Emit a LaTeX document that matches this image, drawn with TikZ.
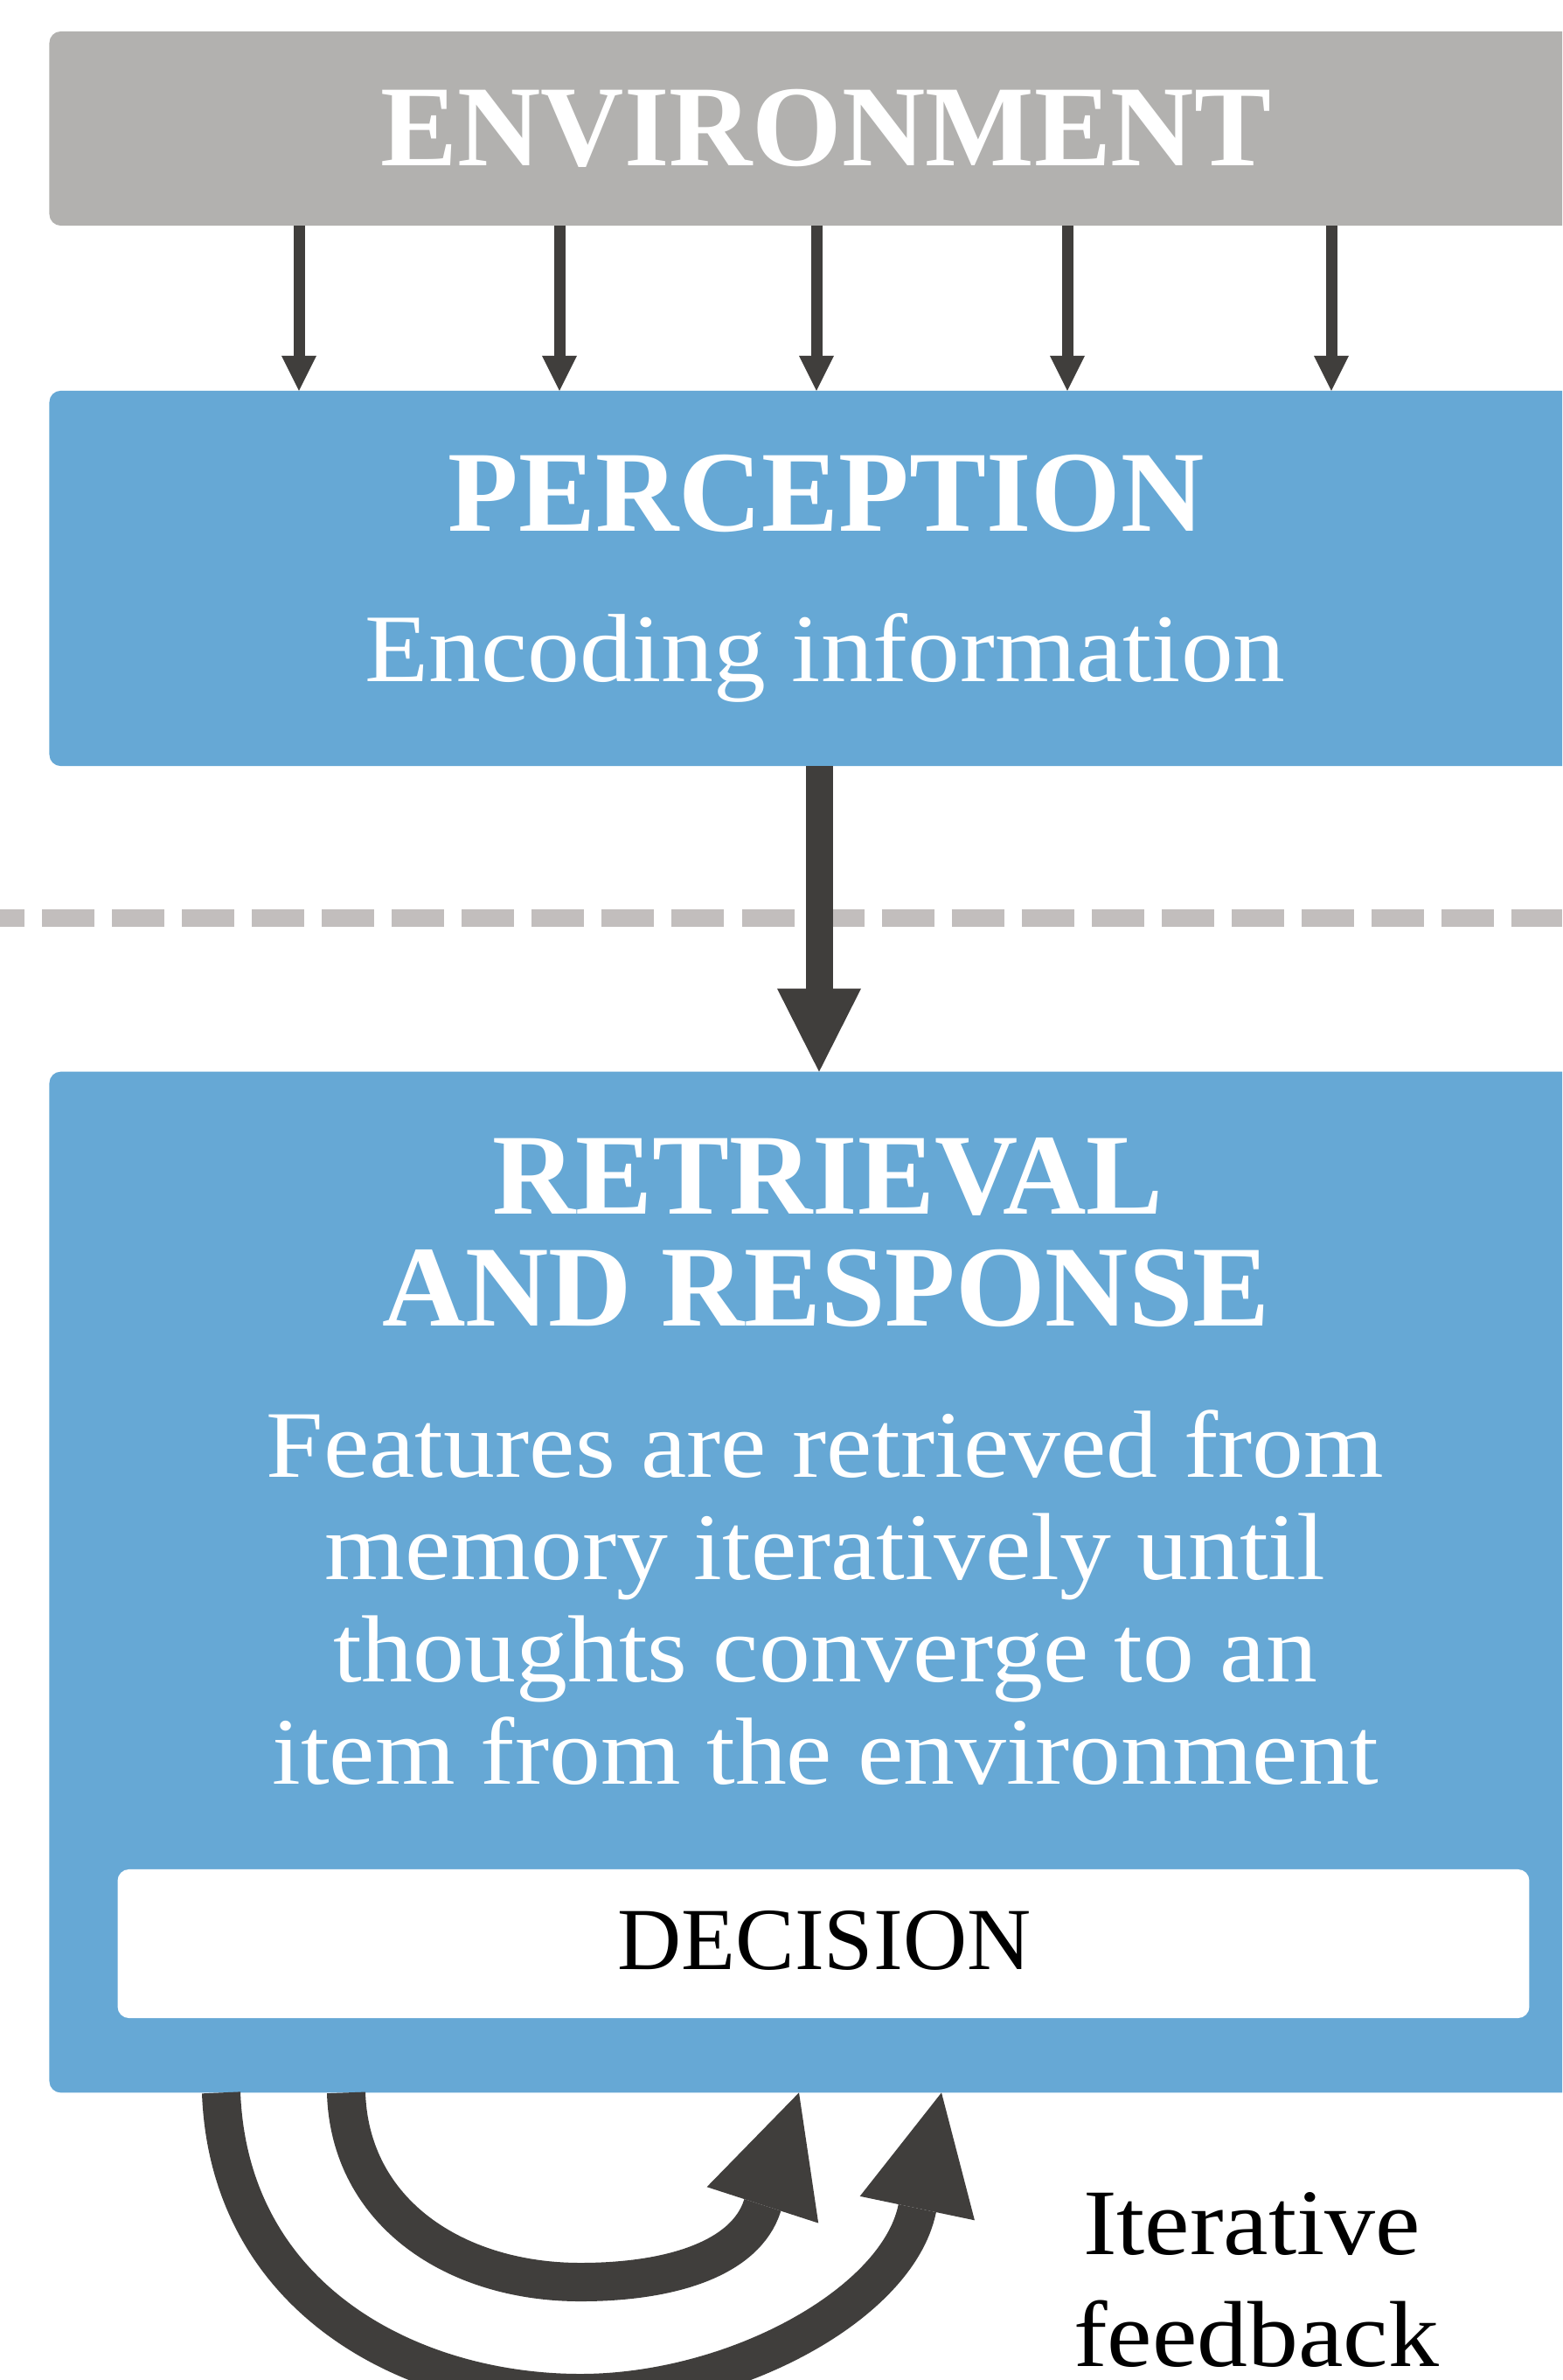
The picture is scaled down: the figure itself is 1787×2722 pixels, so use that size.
\documentclass[tikz,border=0pt]{standalone}
\usepackage{fontspec}
\setmainfont{Liberation Serif}
\newfontfamily\widefam{Liberation Serif}[FakeStretch=1.08]
\usetikzlibrary{arrows.meta}
\definecolor{envgray}{RGB}{178,177,175}
\definecolor{boxblue}{RGB}{102,168,213}
\definecolor{arrowdark}{RGB}{64,62,60}
\definecolor{dashgray}{RGB}{194,190,189}
\begin{document}
\begin{tikzpicture}[x=0.01cm,y=-0.01cm,
  panel/.style={rounded corners=0.13cm, inner sep=0pt, outer sep=0pt, minimum width=17.76cm},
  titletext/.style={anchor=base, inner sep=0pt, text=white, font=\fontsize{37.5}{40}\selectfont\bfseries},
  bodytext/.style={anchor=base, inner sep=0pt, text=white, font=\widefam\fontsize{31}{34}\selectfont},
  inputarrow/.style={draw=arrowdark, line width=0.13cm, -{Triangle[length=0.40cm,width=0.40cm,line width=0pt]}},
  mainarrow/.style={draw=arrowdark, line width=0.31cm, -{Triangle[length=0.95cm,width=0.96cm,line width=0pt]}},
  looparrow/.style={draw=arrowdark, line width=0.44cm, -{Triangle[length=1.35cm,width=1.34cm,line width=0pt]}}
]
\clip (0,0) rectangle (1787,2722);
\fill[white] (0,0) rectangle (1787,2722);

% stage boxes
\node[panel, fill=envgray, minimum height=2.22cm] (env) at (945,147) {};
\node[panel, fill=boxblue, minimum height=4.29cm] (perc) at (945,661.5) {};
\node[panel, fill=boxblue, minimum height=11.67cm] (retr) at (945,1809.5) {};
\node[panel, fill=white, minimum width=16.14cm, minimum height=1.70cm] (dec) at (942,2223) {};

% labels
\node[titletext] (envlabel) at (945,190) {ENVIRONMENT};
\node[titletext] (perclabel) at (945,608) {PERCEPTION};
\node[bodytext, font=\widefam\fontsize{31.5}{34}\selectfont] (percsub) at (944,780) {Encoding information};
\node[titletext] (retrA) at (947,1388) {RETRIEVAL};
\node[titletext] (retrB) at (945,1516) {AND RESPONSE};
\node[bodytext] (body1) at (944,1689) {Features are retrieved from};
\node[bodytext] (body2) at (944,1806) {memory iteratively until};
\node[bodytext] (body3) at (944,1923) {thoughts converge to an};
\node[bodytext] (body4) at (944,2040) {item from the environment};
\node[anchor=base, inner sep=0pt, text=black, font=\fontsize{28.8}{31}\selectfont] (declabel) at (943,2252) {DECISION};
\node[bodytext, text=black, font=\widefam\fontsize{30.5}{33}\selectfont] (fb1) at (1432,2578) {Iterative};
\node[bodytext, text=black, font=\widefam\fontsize{30.5}{33}\selectfont] (fb2) at (1437,2706) {feedback};

% environment inputs
\coordinate (c1) at (342,0);
\coordinate (c2) at (640,0);
\coordinate (c3) at (934,0);
\coordinate (c4) at (1221,0);
\coordinate (c5) at (1523,0);
\foreach \c in {c1,c2,c3,c4,c5}
  \draw[inputarrow] (env.south -| \c) -- (perc.north -| \c);

% boundary line
\coordinate (dl) at (0,1050);
\coordinate (dr) at (1787,1050);
\draw[dashgray, line width=0.2cm, dash pattern=on 0.6cm off 0.2cm, dash phase=0.32cm] (dl) -- (dr);

% perception to retrieval
\coordinate (m) at (937,0);
\draw[mainarrow] (perc.south -| m) -- (retr.north -| m);

% feedback loops
\coordinate (s1) at (396,0);
\coordinate (t1) at (914,0);
\coordinate (s2) at (253,0);
\coordinate (t2) at (1077,0);
\draw[looparrow] (retr.south -| s1) .. controls (400,2530) and (520,2610) .. (664,2610)
  .. controls (770,2610) and (853,2582) .. (872,2523) -- (retr.south -| t1);
\draw[looparrow] (retr.south -| s2) .. controls (262,2630) and (470,2737) .. (664,2737)
  .. controls (840,2737) and (1026,2635) .. (1049,2527) -- (retr.south -| t2);
\end{tikzpicture}
\end{document}
